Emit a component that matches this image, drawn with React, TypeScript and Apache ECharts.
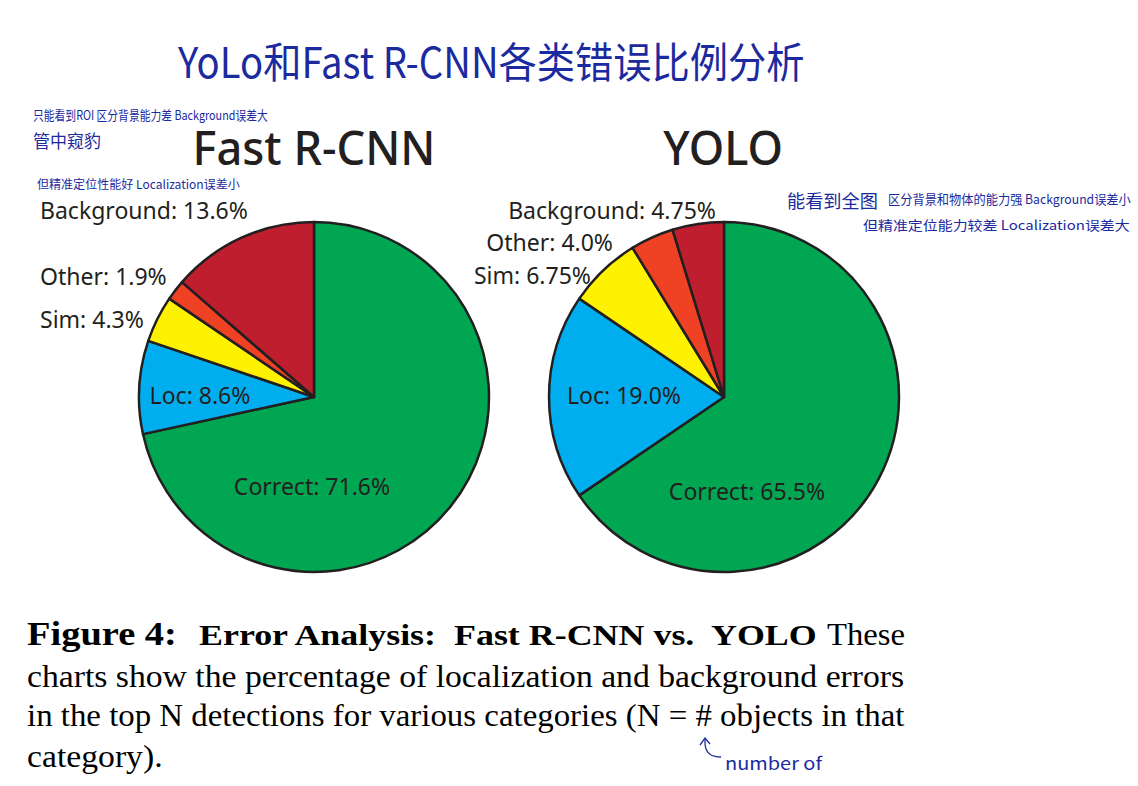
import React, { useEffect, useRef } from "react";
import * as echarts from "echarts";

const categories = ["Correct", "Loc", "Sim", "Other", "Background"];
const fastRcnnValues = [71.6, 8.6, 4.3, 1.9, 13.6];
const yoloValues = [65.5, 19.0, 6.75, 4.0, 4.75];
const sliceColors = ["#00A651", "#00AEEF", "#FFF200", "#EF4123", "#BE1E2D"];
const chartTitles = ["Fast R-CNN", "YOLO"];
const mainTitle = "YoLo和Fast R-CNN各类错误比例分析";
const leftNotes = ["只能看到ROI 区分背景能力差 Background误差大", "管中窥豹", "但精准定位性能好 Localization误差小"];
const rightNotes = ["能看到全图", "区分背景和物体的能力强 Background误差小", "但精准定位能力较差 Localization误差大"];
const captionHead = ["Figure 4:", "Error Analysis:  Fast R-CNN vs.  YOLO", "These"];
const captionLines = [
  "charts show the percentage of localization and background errors",
  "in the top N detections for various categories (N = # objects in that",
  "category).",
];
const arrowNote = "number of";

const INK = "#231F20";
const PEN = "#1B2A9E";
const SANS = "Noto Sans, sans-serif";
const SERIF = "Liberation Serif, Times New Roman, Times, serif";
const HAND = "Noto Sans CJK SC, sans-serif";

let measureCtx: CanvasRenderingContext2D | null = null;
function measure(text: string, size: number, family: string, weight: string | number = "normal") {
  if (!measureCtx) measureCtx = document.createElement("canvas").getContext("2d");
  measureCtx!.font = `${weight} ${size}px ${family}`;
  return measureCtx!.measureText(text).width;
}
function fit(text: string, size: number, family: string, width: number, weight: string | number = "normal") {
  return width / measure(text, size, family, weight);
}

function fmt(v: number) {
  return Number.isInteger(v) ? v.toFixed(1) : String(v);
}

function txt(
  text: string,
  x: number,
  y: number,
  size: number,
  family: string,
  fill: string,
  align: string,
  scaleX: number,
  weight: string | number = "normal"
) {
  return {
    type: "text",
    x,
    y,
    z: 100,
    zlevel: 0,
    scaleX,
    silent: true,
    style: {
      text,
      x: 0,
      y: 0,
      fontSize: size,
      fontFamily: family,
      fontWeight: weight,
      fill,
      align,
      verticalAlign: "middle",
      textAlign: align,
      textVerticalAlign: "middle",
    },
  };
}

export default function App() {
  const ref = useRef<HTMLDivElement>(null);
  useEffect(() => {
    const chart = echarts.init(ref.current!, null, { renderer: "svg" });

    const labelSize = 23;
    const labelScale = fit(`${categories[4]}: ${fmt(fastRcnnValues[4])}%`, labelSize, SANS, 208);
    const titleSize = 48;
    const titleScale = fit(chartTitles[0], titleSize, SANS, 243, 500);

    // label anchors per category (Correct, Loc, Sim, Other, Background)
    const frLayout = [
      { x: 312, y: 486, a: "center" },
      { x: 200, y: 395, a: "center" },
      { x: 40, y: 319, a: "left" },
      { x: 40, y: 276, a: "left" },
      { x: 40, y: 210, a: "left" },
    ];
    const yoLayout = [
      { x: 747, y: 491, a: "center" },
      { x: 624, y: 395, a: "center" },
      { x: 591, y: 275, a: "right" },
      { x: 613, y: 242, a: "right" },
      { x: 716, y: 210, a: "right" },
    ];

    const sliceLabels: any[] = [];
    categories.forEach((c, i) => {
      const f = frLayout[i];
      sliceLabels.push(txt(`${c}: ${fmt(fastRcnnValues[i])}%`, f.x, f.y, labelSize, SANS, INK, f.a, labelScale));
      const y = yoLayout[i];
      sliceLabels.push(txt(`${c}: ${fmt(yoloValues[i])}%`, y.x, y.y, labelSize, SANS, INK, y.a, labelScale));
    });

    const capSize = 31;
    const capHeadSize = 29;
    const capFigSize = 33;
    const line4Scale = fit(captionLines[0], capSize, SERIF, 878);

    const graphics: any[] = [
      ...sliceLabels,
      txt(chartTitles[0], 314, 146, titleSize, SANS, INK, "center", titleScale, 500),
      txt(chartTitles[1], 723, 146, titleSize, SANS, INK, "center", titleScale, 500),
      // handwritten notes
      txt(mainTitle, 178, 60, 42, HAND, PEN, "left", fit(mainTitle, 42, HAND, 627)),
      txt(leftNotes[0], 33, 114, 13, HAND, PEN, "left", fit(leftNotes[0], 13, HAND, 235)),
      txt(leftNotes[1], 33, 140, 18, HAND, PEN, "left", fit(leftNotes[1], 18, HAND, 68)),
      txt(leftNotes[2], 37, 184, 12, HAND, PEN, "left", fit(leftNotes[2], 12, HAND, 203)),
      txt(rightNotes[0], 787, 200, 18, HAND, PEN, "left", fit(rightNotes[0], 18, HAND, 91)),
      txt(rightNotes[1], 888, 198, 13, HAND, PEN, "left", fit(rightNotes[1], 13, HAND, 243)),
      txt(rightNotes[2], 863, 224, 13, HAND, PEN, "left", fit(rightNotes[2], 13, HAND, 267)),
      txt(arrowNote, 725, 762, 17, HAND, PEN, "left", fit(arrowNote, 17, HAND, 97)),
      {
        type: "polyline",
        silent: true,
        z: 100,
        shape: { points: [[721, 757], [711, 755], [706, 749], [705, 739]], smooth: 0.4 },
        style: { stroke: PEN, lineWidth: 1.3, fill: null },
      },
      {
        type: "polyline",
        silent: true,
        z: 100,
        shape: { points: [[700, 745], [705, 738], [710, 744]] },
        style: { stroke: PEN, lineWidth: 1.3, fill: null },
      },
      // caption
      txt(captionHead[0], 27, 634, capFigSize, SERIF, "#000", "left", fit(captionHead[0], capFigSize, SERIF, 150, "bold"), "bold"),
      txt(captionHead[1], 199, 635, capHeadSize, SERIF, "#000", "left", fit(captionHead[1], capHeadSize, SERIF, 622, "bold"), "bold"),
      txt(captionHead[2], 905, 635, capSize, SERIF, "#000", "right", fit(captionHead[2], capSize, SERIF, 78)),
      txt(captionLines[0], 27, 676, capSize, SERIF, "#000", "left", fit(captionLines[0], capSize, SERIF, 878)),
      txt(captionLines[1], 27, 716, capSize, SERIF, "#000", "left", fit(captionLines[1], capSize, SERIF, 878)),
      txt(captionLines[2], 27, 756, capSize, SERIF, "#000", "left", line4Scale),
    ];

    const pie = (center: number[], values: number[]) => ({
      type: "pie",
      center,
      radius: 175,
      startAngle: 90,
      clockwise: true,
      silent: true,
      z: 2,
      label: { show: false },
      labelLine: { show: false },
      itemStyle: { borderColor: INK, borderWidth: 2.5 },
      data: categories.map((c, i) => ({ name: c, value: values[i], itemStyle: { color: sliceColors[i] } })),
    });

    chart.setOption({
      animation: false,
      backgroundColor: "#ffffff",
      series: [pie([314, 397], fastRcnnValues), pie([724, 397], yoloValues)],
      graphic: graphics,
    });
    return () => chart.dispose();
  }, []);
  return <div ref={ref} style={{ position: "fixed", left: 0, top: 0, width: 1138, height: 786 }} />;
}
